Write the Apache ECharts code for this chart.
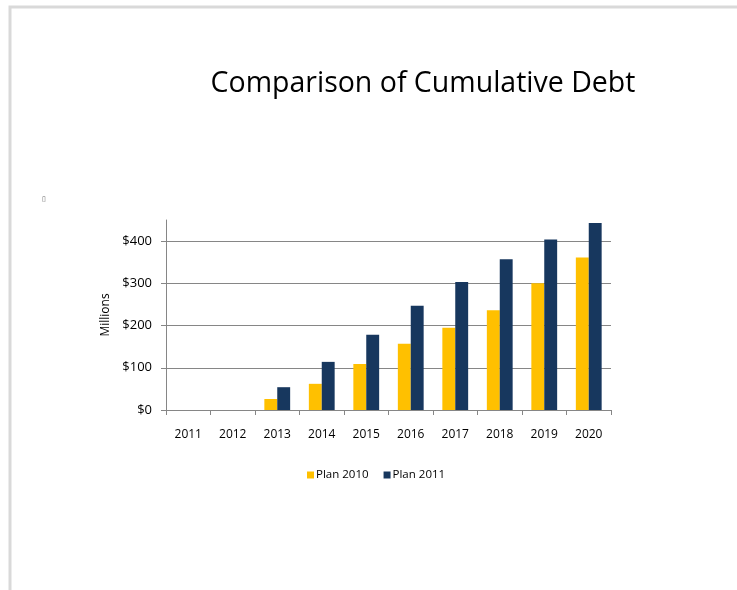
<!DOCTYPE html>
<html>
<head>
<meta charset="utf-8">
<style>
  html, body { margin: 0; padding: 0; background: #fff; }
  #chart { width: 737px; height: 590px; }
</style>
<script src="https://cdn.jsdelivr.net/npm/echarts@6/dist/echarts.min.js"></script>
</head>
<body>
<div id="chart"></div>
<script>
// Cumulative debt by year, in millions of dollars
const years = ['2011', '2012', '2013', '2014', '2015', '2016', '2017', '2018', '2019', '2020'];
const plan2010 = [0, 0, 26, 62, 109, 157, 195, 236, 300, 361];
const plan2011 = [0, 0, 54, 114, 178, 247, 303, 357, 404, 443];
const seriesNames = ['Plan 2010', 'Plan 2011'];
const yTicks = [0, 100, 200, 300, 400];

const chart = echarts.init(document.getElementById('chart'), null, { renderer: 'canvas' });
const font = 'Open Sans, Noto Sans, sans-serif';

chart.setOption({
  animation: false,
  backgroundColor: '#ffffff',
  title: {
    text: 'Comparison of Cumulative Debt',
    left: 418,
    top: 64,
    textAlign: 'center',
    textStyle: { fontFamily: font, fontSize: 28.5, fontWeight: 'normal', color: '#000' }
  },
  legend: {
    data: seriesNames,
    top: 464,
    left: 302,
    itemWidth: 7,
    itemHeight: 7,
    itemGap: 15,
    icon: 'rect',
    textStyle: { fontFamily: font, fontSize: 11.5, color: '#000', padding: [0, 0, 0, -3] }
  },
  grid: { left: 166, right: 126, top: 220, bottom: 180 },
  xAxis: {
    type: 'category',
    data: years,
    axisLine: { lineStyle: { color: '#868686', width: 1 } },
    axisTick: { show: true, length: 5, lineStyle: { color: '#868686' } },
    axisLabel: { fontFamily: font, fontSize: 12, color: '#000', margin: 19 }
  },
  yAxis: {
    type: 'value',
    min: 0,
    max: 450,
    interval: 100,
    name: 'Millions',
    nameLocation: 'middle',
    nameGap: 53,
    nameRotate: 90,
    nameTextStyle: { fontFamily: font, fontSize: 12, color: '#000' },
    axisLine: { show: true, lineStyle: { color: '#868686', width: 1 } },
    axisTick: { show: true, length: 5, lineStyle: { color: '#868686' } },
    axisLabel: {
      fontFamily: font, fontSize: 13, color: '#000', margin: 14,
      showMaxLabel: false,
      formatter: v => yTicks.includes(v) ? '$' + v : ''
    },
    splitLine: { show: true, showMaxLine: false, lineStyle: { color: '#868686', width: 1 } }
  },
  series: [
    {
      name: seriesNames[0],
      type: 'bar',
      data: plan2010,
      barGap: '0%',
      barCategoryGap: '42%',
      itemStyle: { color: '#FFC000' }
    },
    {
      name: seriesNames[1],
      type: 'bar',
      data: plan2011,
      itemStyle: { color: '#17375E' }
    }
  ],
  graphic: [
    {
      type: 'polyline',
      shape: { points: [[10, 590], [10, 7], [737, 7]] },
      style: { stroke: '#d9d9d9', lineWidth: 3, fill: null },
      silent: true
    },
    {
      type: 'text',
      left: 42,
      top: 196,
      style: { text: '▯', fontSize: 7, fill: '#666', fontFamily: 'DejaVu Sans' }
    }
  ]
});
</script>
</body>
</html>
